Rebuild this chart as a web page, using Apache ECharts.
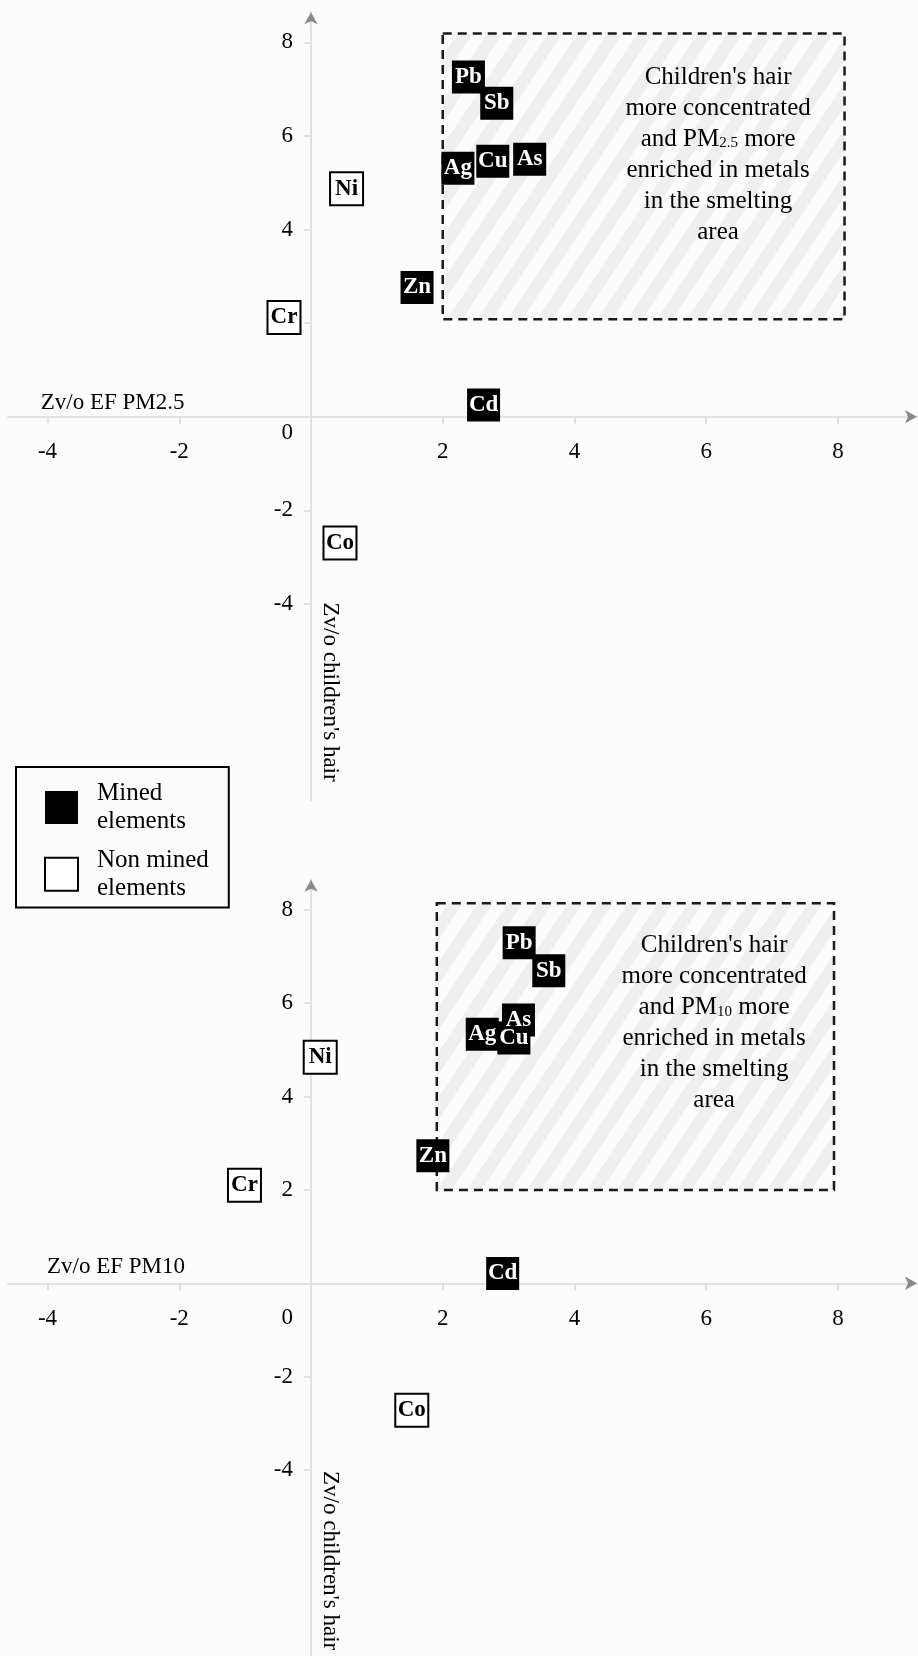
<!DOCTYPE html>
<html>
<head>
<meta charset="utf-8">
<script src="https://cdn.jsdelivr.net/npm/echarts@6/dist/echarts.min.js"></script>
<style>
html,body{margin:0;padding:0;background:#fcfcfc;}
#chart{width:918px;height:1656px;}
</style>
</head>
<body>
<div id="chart"></div>
<script>
// ---------- data ----------
const minedNames = ['Pb', 'Sb', 'Ag', 'Cu', 'As', 'Zn', 'Cd'];
const nonMinedNames = ['Ni', 'Cr', 'Co'];

// PM2.5 panel: x = Zv/o EF PM2.5, y = Zv/o children's hair
const pm25MinedX = [2.39, 2.82, 2.23, 2.76, 3.32, 1.61, 2.62];
const pm25MinedY = [7.26, 6.70, 5.31, 5.46, 5.50, 2.76, 0.25];
const pm25NonX = [0.54, -0.41, 0.44];
const pm25NonY = [4.87, 2.12, -2.70];

// PM10 panel
const pm10MinedX = [3.16, 3.61, 2.60, 3.08, 3.15, 1.85, 2.91];
const pm10MinedY = [7.29, 6.69, 5.33, 5.25, 5.64, 2.73, 0.21];
const pm10NonX = [0.14, -1.01, 1.53];
const pm10NonY = [4.84, 2.10, -2.72];

// highlighted regions [xMin, yMin, xMax, yMax] and annotation anchor [x, y]
const regionPM25 = [2.0, 2.08, 8.1, 8.19];
const regionPM10 = [1.91, 2.0, 7.94, 8.14];
const notePM25 = [6.18, 5.6];
const notePM10 = [6.12, 5.57];

const xTickValues = [-4, -2, 2, 4, 6, 8];
const yTickValues = [-4, -2, 0, 2, 4, 6, 8];
const xRange = [-4.6, 9.2];
const yRange = [-8.2, 8.64];

const FONT = 'Liberation Serif';

// ---------- layout ----------
const W = 918;
const grids = [
  { left: 8, right: 1, top: 12.35, height: 788.1 },
  { left: 8, right: 1, top: 879.8, height: 786.4 }
];
const gridW = W - 8 - 1;
// offsets that put each axis on the other axis' zero
function xAxisOffset(g) {
  const zeroY = g.top + g.height * yRange[1] / (yRange[1] - yRange[0]);
  return zeroY - (g.top + g.height);
}
function yAxisOffset(g) {
  const zeroX = g.left + gridW * (-xRange[0]) / (xRange[1] - xRange[0]);
  return g.left - zeroX;
}

// ---------- stripe pattern ----------
const tile = document.createElement('canvas');
tile.width = 30; tile.height = 45;
(function () {
  const c = tile.getContext('2d');
  c.fillStyle = '#fcfcfc';
  c.fillRect(0, 0, 30, 45);
  c.fillStyle = '#efefef';
  for (let k = -2; k <= 2; k++) {
    c.beginPath();
    c.moveTo(k * 30, 45);
    c.lineTo(k * 30 + 15, 45);
    c.lineTo(k * 30 + 45, 0);
    c.lineTo(k * 30 + 30, 0);
    c.closePath();
    c.fill();
  }
})();

function pts(names, xs, ys) {
  return names.map((n, i) => ({ name: n, value: [xs[i], ys[i]] }));
}

function regionSeries(idx, region, note, sub) {
  return {
    type: 'custom', xAxisIndex: idx, yAxisIndex: idx, z: 1, silent: true, clip: false,
    data: [[region[0], region[1], region[2], region[3], note[0], note[1]]],
    renderItem: function (params, api) {
      const p1 = api.coord([api.value(0), api.value(3)]);
      const p2 = api.coord([api.value(2), api.value(1)]);
      const t = api.coord([api.value(4), api.value(5)]);
      return {
        type: 'group',
        children: [
          {
            type: 'rect',
            shape: { x: p1[0], y: p1[1], width: p2[0] - p1[0], height: p2[1] - p1[1] },
            style: { fill: { image: tile, repeat: 'repeat' }, stroke: '#1a1a1a', lineWidth: 2.5, lineDash: [9, 6] }
          },
          {
            type: 'text', x: t[0], y: t[1],
            style: {
              text: "Children's hair\nmore concentrated\nand PM{s|" + sub + "} more\nenriched in metals\nin the smelting\narea",
              fill: '#000', fontFamily: FONT, fontSize: 25, lineHeight: 31,
              align: 'center', verticalAlign: 'middle',
              rich: { s: { fontFamily: FONT, fontSize: 15, lineHeight: 25, verticalAlign: 'bottom', padding: [0, 0, 4, 0] } }
            }
          }
        ]
      };
    }
  };
}

const axisLineStyle = { color: '#d9d9d9', width: 1.6 };

function makeX(idx, name, gap, pad) {
  return {
    type: 'value', gridIndex: idx, min: xRange[0], max: xRange[1], position: 'bottom',
    offset: xAxisOffset(grids[idx]),
    name: name, nameLocation: 'start', nameGap: gap,
    nameTextStyle: { fontFamily: FONT, fontSize: 23, color: '#000', align: 'left', verticalAlign: 'bottom', padding: [0, 0, pad, 0] },
    axisLine: { onZero: false, lineStyle: axisLineStyle },
    axisTick: { show: true, length: 7, lineStyle: axisLineStyle, customValues: xTickValues },
    axisLabel: { customValues: xTickValues, margin: 24, fontFamily: FONT, fontSize: 23, color: '#000' },
    splitLine: { show: false }
  };
}

function makeY(idx, gap, zeroPad) {
  return {
    type: 'value', gridIndex: idx, min: yRange[0], max: yRange[1], position: 'left',
    offset: yAxisOffset(grids[idx]),
    name: "Zv/o children's hair", nameLocation: 'start', nameGap: gap, nameRotate: -90,
    nameTextStyle: { fontFamily: FONT, fontSize: 23, color: '#000', align: 'right', verticalAlign: 'bottom', padding: [0, 0, 8, 0] },
    axisLine: { onZero: false, lineStyle: axisLineStyle },
    axisTick: { show: true, length: 7, lineStyle: axisLineStyle, customValues: yTickValues.filter(v => v !== 0) },
    axisLabel: {
      customValues: yTickValues, margin: 18, fontFamily: FONT, fontSize: 23, color: '#000',
      formatter: v => (v === 0 ? '{z|0}' : String(v)),
      rich: { z: { fontFamily: FONT, fontSize: 23, color: '#000', padding: [zeroPad, 0, 0, 0] } }
    },
    splitLine: { show: false }
  };
}

// arrow-only axes (line width 0 so only the darker arrow heads are drawn)
function arrowX(idx) {
  return {
    type: 'value', gridIndex: idx, min: xRange[0], max: xRange[1], position: 'bottom',
    offset: xAxisOffset(grids[idx]),
    axisLine: { onZero: false, symbol: ['none', 'arrow'], symbolSize: [10, 12], lineStyle: { color: '#8a8a8a', width: 0 } },
    axisTick: { show: false }, axisLabel: { show: false }, splitLine: { show: false }
  };
}
function arrowY(idx) {
  return {
    type: 'value', gridIndex: idx, min: yRange[0], max: yRange[1], position: 'left',
    offset: yAxisOffset(grids[idx]),
    axisLine: { onZero: false, symbol: ['none', 'arrow'], symbolSize: [10, 12], lineStyle: { color: '#8a8a8a', width: 0 } },
    axisTick: { show: false }, axisLabel: { show: false }, splitLine: { show: false }
  };
}

const labelMined = { show: true, position: 'inside', formatter: '{b}', color: '#fff', fontFamily: FONT, fontWeight: 'bold', fontSize: 23 };
const labelNon = Object.assign({}, labelMined, { color: '#000' });

function scatterPair(idx, mx, my, nx, ny) {
  return [
    {
      name: 'Mined elements', type: 'scatter', xAxisIndex: idx, yAxisIndex: idx, z: 3,
      symbol: 'rect', symbolSize: 33, itemStyle: { color: '#000', opacity: 1 },
      label: labelMined, emphasis: { disabled: true }, data: pts(minedNames, mx, my)
    },
    {
      name: 'Non mined elements', type: 'scatter', xAxisIndex: idx, yAxisIndex: idx, z: 3,
      symbol: 'rect', symbolSize: 33, itemStyle: { color: '#fff', borderColor: '#000', borderWidth: 2, opacity: 1 },
      label: labelNon, emphasis: { disabled: true }, data: pts(nonMinedNames, nx, ny)
    }
  ];
}

const chart = echarts.init(document.getElementById('chart'), null, { renderer: 'canvas' });
chart.setOption({
  backgroundColor: '#fcfcfc',
  animation: false,
  grid: grids.map(g => Object.assign({ containLabel: false, outerBoundsMode: 'none' }, g)),
  xAxis: [makeX(0, 'Zv/o EF PM2.5', -32.7, 2), makeX(1, 'Zv/o EF PM10', -39, 5), arrowX(0), arrowX(1)],
  yAxis: [makeY(0, -18.8, 33), makeY(1, -16, 70), arrowY(0), arrowY(1)],
  legend: {
    orient: 'vertical', left: 16, top: 767, selectedMode: false,
    padding: [12, 20, 5, 28], itemGap: 10, itemWidth: 33, itemHeight: 33,
    borderColor: '#000', borderWidth: 2, backgroundColor: '#fcfcfc',
    icon: 'rect',
    data: ['Mined elements', 'Non mined elements'],
    formatter: n => n.replace(' elements', '\nelements'),
    textStyle: { fontFamily: FONT, fontSize: 25, lineHeight: 28.4, color: '#000', padding: [0, 0, 0, 14] }
  },
  series: [
    regionSeries(0, regionPM25, notePM25, '2.5'),
    regionSeries(1, regionPM10, notePM10, '10')
  ].concat(
    scatterPair(0, pm25MinedX, pm25MinedY, pm25NonX, pm25NonY),
    scatterPair(1, pm10MinedX, pm10MinedY, pm10NonX, pm10NonY)
  )
});
</script>
</body>
</html>
